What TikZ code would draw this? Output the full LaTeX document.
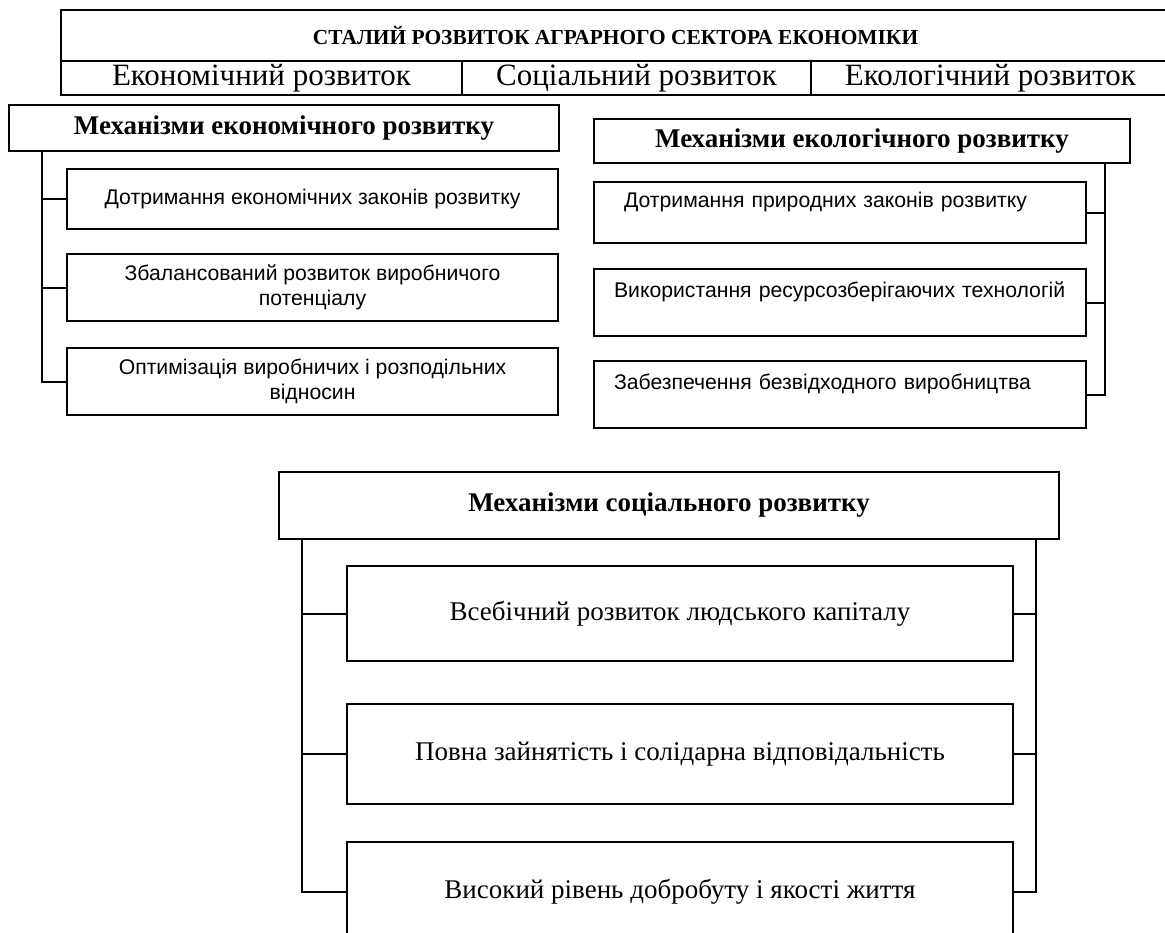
\documentclass[tikz,border=0pt]{standalone}
\usepackage{fontspec}
\setmainfont{Liberation Serif}
\newfontfamily\arialfont{Liberation Sans}
\usepackage{tikz}

\def\px{0.5pt}
\tikzset{
	cellbox/.style={draw, line width=1pt, inner sep=0pt, align=center},
	titletext/.style={font=\fontsize{10.7}{12}\selectfont\bfseries},
	rowtext/.style={font=\fontsize{15.5}{18}\selectfont},
	headtext/.style={font=\fontsize{13.5}{16}\selectfont\bfseries},
	sanstext/.style={font=\arialfont\fontsize{10.6}{12.5}\selectfont},
	leftsans/.style={sanstext, align=left, text width=452*\px, inner xsep=20*\px},
	serftext/.style={font=\fontsize{13.5}{16}\selectfont},
	link/.style={line width=1pt}
}

\begin{document}
\begin{tikzpicture}[x=\px, y=-\px]
				\useasboundingbox (0,0) rectangle (1165,932);

				% Top table
				\node[cellbox, titletext, minimum width=1109*\px, minimum height=51*\px] (title) at (615.5,35.5) {СТАЛИЙ РОЗВИТОК АГРАРНОГО СЕКТОРА ЕКОНОМІКИ};
				\node[cellbox, rowtext, minimum width=401*\px, minimum height=34*\px] (econ) at (261.5,78) {Економічний розвиток};
				\node[cellbox, rowtext, minimum width=349*\px, minimum height=34*\px] (soc) at (636.5,78) {Соціальний розвиток};
				\node[cellbox, rowtext, minimum width=359*\px, minimum height=34*\px] (ecol) at (990.5,78) {Екологічний розвиток};

				% Economic mechanisms
				\node[cellbox, headtext, minimum width=550*\px, minimum height=46*\px] (ecm) at (284,128) {Механізми економічного розвитку};
				\node[cellbox, sanstext, minimum width=491*\px, minimum height=60*\px] (ec1) at (312.5,199) {Дотримання економічних законів розвитку};
				\node[cellbox, sanstext, minimum width=491*\px, minimum height=67*\px] (ec2) at (312.5,287.5) {Збалансований розвиток виробничого\\потенціалу};
				\node[cellbox, sanstext, minimum width=491*\px, minimum height=67*\px] (ec3) at (312.5,381.5) {Оптимізація виробничих і розподільних\\відносин};
				\coordinate (ecspine) at (42,151);
				\foreach \i in {1,2,3} {
					\draw[link] (ecm.south -| ecspine) |- (ec\i.west);
				}

				% Ecological mechanisms
				\node[cellbox, headtext, minimum width=536*\px, minimum height=44*\px] (elm) at (862,141) {Механізми екологічного розвитку};
				\node[cellbox, leftsans, minimum height=61*\px] (el1) at (840,212.5) {\hspace*{5pt}Дотримання природних законів розвитку\\\mbox{}};
				\node[cellbox, leftsans, minimum height=67*\px] (el2) at (840,302.5) {Використання ресурсозберігаючих технологій\\\mbox{}};
				\node[cellbox, leftsans, minimum height=67*\px] (el3) at (840,394.5) {Забезпечення безвідходного виробництва\\\mbox{}};
				\coordinate (elspine) at (1105,163);
				\foreach \i in {1,2,3} {
					\draw[link] (elm.south -| elspine) |- (el\i.east);
				}

				% Social mechanisms
				\node[cellbox, headtext, minimum width=780*\px, minimum height=67*\px] (scm) at (669,505.5) {Механізми соціального розвитку};
				\node[cellbox, serftext, minimum width=666*\px, minimum height=95*\px] (sc1) at (680,613.5) {Всебічний розвиток людського капіталу};
				\node[cellbox, serftext, minimum width=666*\px, minimum height=100*\px] (sc2) at (680,754) {Повна зайнятість і солідарна відповідальність};
				\node[cellbox, serftext, minimum width=666*\px, minimum height=100*\px] (sc3) at (680,892) {Високий рівень добробуту і якості життя};
				\coordinate (scleft) at (302,539);
				\coordinate (scright) at (1036,539);
				\foreach \i in {1,2,3} {
					\draw[link] (scm.south -| scleft) |- (sc\i.west);
					\draw[link] (scm.south -| scright) |- (sc\i.east);
				}

\end{tikzpicture}
\end{document}
